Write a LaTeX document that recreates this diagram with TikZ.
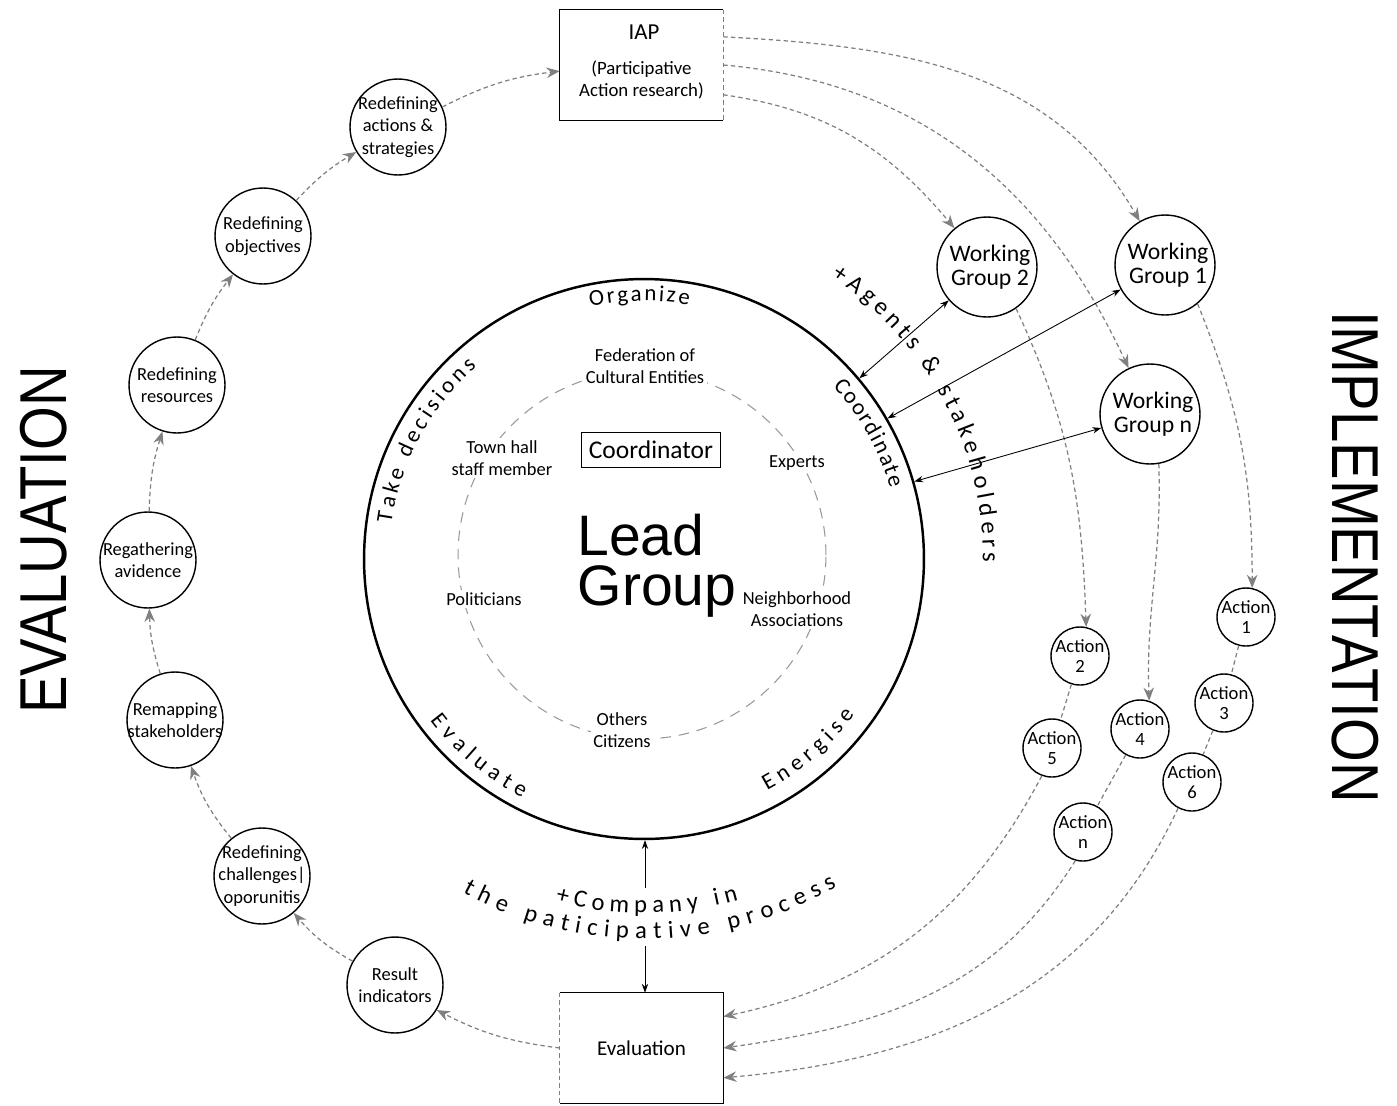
\documentclass[tikz,border=0pt]{standalone}
\usepackage{fontspec}
\setmainfont{Carlito}
\newfontfamily\arialfont{Liberation Sans}
\usepackage{graphicx}
\usepackage{tikz}
\usetikzlibrary{arrows.meta,positioning,calc,decorations.text}

\newcommand{\arcfont}{\fontsize{13}{15}\selectfont}
\newcommand{\widearcfont}{\fontsize{14}{16}\selectfont}

\begin{document}
\begin{tikzpicture}[
    x=0.02cm, y=0.02cm,
    stage/.style={circle, draw, line width=0.8pt, minimum size=1.92cm, inner sep=0pt},
    wgroup/.style={circle, draw, line width=0.8pt, minimum size=2cm, inner sep=0pt},
    action/.style={circle, draw, line width=0.8pt, minimum size=1.16cm, inner sep=0pt},
    txt/.style={align=center, inner sep=0pt, font=\fontsize{10.5}{12.8}\selectfont},
    wgtxt/.style={align=center, inner sep=0pt, xshift=0.06cm, font=\fontsize{13.5}{13.6}\selectfont},
    acttxt/.style={align=center, inner sep=0pt, font=\fontsize{10.6}{11.3}\selectfont},
    member/.style={align=center, fill=white, inner sep=1.5pt, font=\fontsize{10.5}{12.8}\selectfont},
    box/.style={rectangle, align=center, minimum width=3.26cm, minimum height=2.2cm},
    ring/.style={circle, draw=black!40, line width=0.6pt, dash pattern=on 6pt off 4.5pt, minimum size=7.36cm},
    flow/.style={-{Stealth[length=7.5pt, width=6pt]}, draw=black!50, line width=0.7pt, dash pattern=on 2.5pt off 1.8pt},
    link/.style={draw=black!50, line width=0.7pt, dash pattern=on 2.5pt off 1.8pt},
    twoway/.style={{Stealth[length=5pt, width=3.6pt]}-{Stealth[length=5pt, width=3.6pt]}, line width=0.5pt},
    oneway/.style={-{Stealth[length=5pt, width=3.6pt]}, line width=0.5pt},
    arctext/.style={decorate, decoration={text along path, text={|\arcfont|#1}, text align={fit to path}}},
    widearc/.style={decorate, decoration={text along path, text={|\widearcfont|#1}, text align={fit to path}}}
]
\useasboundingbox (0,0) rectangle (1397,-1106);

% Lead group
\coordinate (ctr) at (644,-559);
\node[circle, draw, line width=1.4pt, minimum size=11.2cm] (lead) at (ctr) {};
\node[ring] (ring) at (642,-555) {};

\node[member] (fed) at (645,-366) {Federation of\\Cultural Entities};
\node[member] (town) at (502,-458) {Town hall\\staff member};
\node[member] (experts) at (797,-463) {Experts};
\node[member] (polit) at (484,-599) {Politicians};
\node[member] (neigh) at (797,-609) {Neighborhood\\Associations};
\node[member] (others) at (622,-730) {Others\\Citizens};
\node[draw, line width=0.6pt, minimum width=2.78cm, minimum height=0.7cm, inner sep=2pt, font=\fontsize{14.5}{16}\selectfont] (coord) at (651,-450) {Coordinator};
\node[anchor=base, inner sep=0pt, font=\arialfont\fontsize{32.5}{34}\selectfont] (leadtxt) at (641,-555) {Lead};
\node[anchor=base, inner sep=0pt, font=\arialfont\fontsize{32.5}{34}\selectfont] (grouptxt) at (657,-605) {Group};

% Texts along the circle
\path[arctext={Organize}] ($(ctr)+(102:258)$) arc[start angle=102, end angle=80, radius=258];
\path[arctext={Take decisions}] ($(ctr)+(172:255)$) arc[start angle=172, end angle=131, radius=255];
\path[arctext={Coordinate}] ($(ctr)+(42.5:256)$) arc[start angle=42.5, end angle=16, radius=256];
\path[arctext={Evaluate}] ($(ctr)+(217:268)$) arc[start angle=217, end angle=243, radius=268];
\path[arctext={Energise}] ($(ctr)+(298:262)$) arc[start angle=298, end angle=323.5, radius=262];
\path[widearc={+Agents {\&} stakeholders}] ($(ctr)+(56.5:339)$) arc[start angle=56.5, end angle=-0.5, radius=339];
\path[widearc={+Company in}] ($(ctr)+(255.5:354)$) arc[start angle=255.5, end angle=285.5, radius=354];
\path[widearc={the paticipative process}] ($(ctr)+(241.5:380)$) arc[start angle=241.5, end angle=300.5, radius=380];

% Boxes
\node[box] (iap) at (641.5,-65) {};
\node[anchor=base, inner sep=0pt, font=\fontsize{13}{15}\selectfont] (iaptxt) at (644,-39) {IAP};
\node[align=center, inner sep=0pt, font=\fontsize{10.7}{13}\selectfont] (iapsub) at (641.5,-80) {(Participative\\Action research)};
\draw[line width=0.8pt] (iap.north east) -- (iap.north west) -- (iap.south west) -- (iap.south east);
\draw[link] (iap.north east) -- (iap.south east);

\node[box, font=\fontsize{12}{14}\selectfont] (eval) at (641.5,-1048) {Evaluation};
\draw[line width=0.8pt] (eval.north west) -- (eval.north east) -- (eval.south east) -- (eval.south west);
\draw[link] (eval.north west) -- (eval.south west);

% Evaluation stages
\node[stage, label={[txt]center:{Redefining\\actions \&\\strategies}}] (ract) at (398,-127) {};
\node[stage, label={[txt]center:{Redefining\\objectives}}] (robj) at (263,-236) {};
\node[stage, label={[txt]center:{Redefining\\resources}}] (rres) at (177,-385) {};
\node[stage, label={[txt]center:{Regathering\\avidence}}] (regath) at (148,-560) {};
\node[stage, label={[txt]center:{Remapping\\stakeholders}}] (remap) at (175,-720) {};
\node[stage, label={[txt]center:{Redefining\\challenges|\\oporunitis}}] (rchal) at (262,-876) {};
\node[stage, label={[txt]center:{Result\\indicators}}] (result) at (395,-985) {};

% Working groups
\node[wgroup, label={[wgtxt]center:{Working\\Group 2}}] (wg2) at (987,-267) {};
\node[wgroup, label={[wgtxt]center:{Working\\Group 1}}] (wg1) at (1165,-265) {};
\node[wgroup, label={[wgtxt]center:{Working\\Group n}}] (wgn) at (1150,-414) {};

% Actions
\node[action, label={[acttxt]center:{Action\\1}}] (a1) at (1246,-617) {};
\node[action, label={[acttxt]center:{Action\\2}}] (a2) at (1080,-656) {};
\node[action, label={[acttxt]center:{Action\\3}}] (a3) at (1224,-703) {};
\node[action, label={[acttxt]center:{Action\\4}}] (a4) at (1140,-729) {};
\node[action, label={[acttxt]center:{Action\\5}}] (a5) at (1052,-748) {};
\node[action, label={[acttxt]center:{Action\\6}}] (a6) at (1192,-782) {};
\node[action, label={[acttxt]center:{Action\\n}}] (an) at (1083,-832) {};

% Titles
\node[rotate=90, inner sep=0pt, font=\arialfont\fontsize{32}{36}\selectfont] (evaltitle) at (44,-540) {\scalebox{1}[1.18]{EVALUATION}};
\node[rotate=-90, inner sep=0pt, font=\arialfont\fontsize{32}{36}\selectfont] (impltitle) at (1355,-557) {\scalebox{1}[1.18]{IMPLEMENTATION}};

% Edges
\draw[flow] (eval.west) to[bend left=10] (result);
\draw[flow] (result) to[bend left=10] (rchal);
\draw[flow] (rchal) to[bend left=10] (remap);
\draw[flow] (remap) to[bend left=8] (regath);
\draw[flow] (regath) to[bend left=8] (rres);
\draw[flow] (rres) to[bend left=8] (robj);
\draw[flow] (robj) to[bend left=8] (ract);
\draw[flow] (ract) to[bend left=10] (iap);

\draw[flow] (iap.19) to[out=-3, in=120] (wg1);
\draw[flow] (iap.east) to[out=-5, in=115] (wgn);
\draw[flow] (iap.-20) to[out=-8, in=130] (wg2);

\draw[flow] (wg1.-50) to[out=-68, in=90] (a1.78);
\draw[flow] (wg2.-55) to[out=-65, in=92] (a2.78);
\draw[flow] (wgn.-80) to[out=-88, in=92] (a4.72);

\draw[link] (a1) -- (a3);
\draw[link] (a3) -- (a6);
\draw[link] (a2) -- (a5);
\draw[link] (a4) -- (an);

\draw[flow] (a5.-110) to[out=-118, in=12] (eval.21);
\draw[flow] (an.-105) to[out=-122, in=8] (eval.east);
\draw[flow] (a6.-118) to[out=-115, in=5] (eval.-20);

\draw[twoway] (wg2) -- (lead.40);
\draw[twoway] (wg1) -- (lead.30);
\draw[twoway] (wgn) -- (lead.16);

\coordinate (cup) at (645,-888);
\coordinate (cdown) at (645,-946);
\draw[oneway] (cup) -- (cup |- lead.south);
\draw[oneway] (cdown) -- (cdown |- eval.north);

\end{tikzpicture}
\end{document}
